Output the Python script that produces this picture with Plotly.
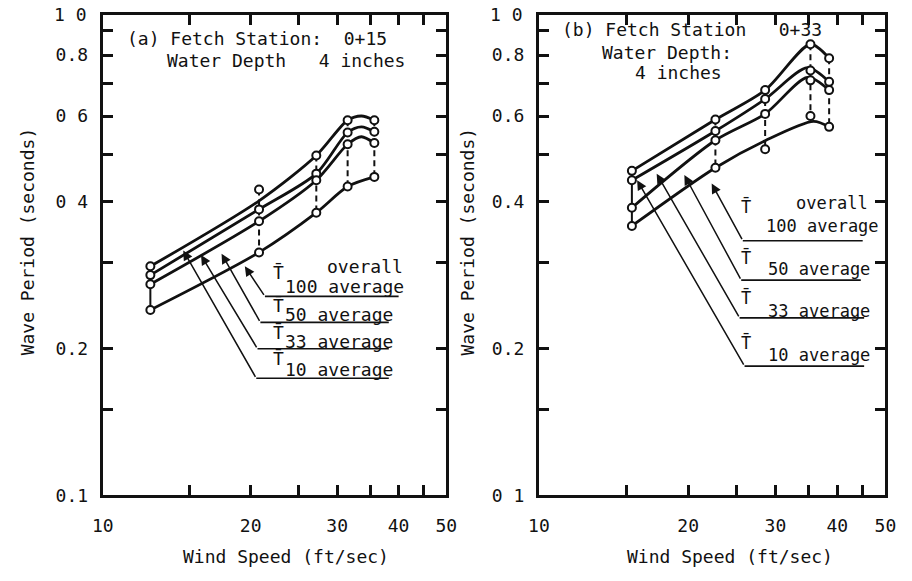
import math
import plotly.graph_objects as go

FONT = "DejaVu Sans Mono"
INK = "#111111"
W, H = 912, 581

# ---------------- data: wave period (s) vs wind speed (ft/sec) ----------------
# (a) Fetch station 0+15, measured points
speed_a = [12.5, 20.8, 27.2, 31.5, 35.7]
t10_a = [0.295, 0.424, 0.498, 0.588, 0.588]
t33_a = [0.283, 0.386, 0.457, 0.555, 0.557]
t50_a = [0.271, 0.365, 0.443, 0.525, 0.528]
t100_a = [0.240, 0.315, 0.380, 0.430, 0.450]

# (a) faired curves
fit_speed_a = [12.5, 20.8, 27.2, 31.5, 33.6, 35.7]
fit_t10_a = [0.295, 0.402, 0.498, 0.588, 0.600, 0.588]
fit_t33_a = [0.283, 0.386, 0.457, 0.555, 0.570, 0.557]
fit_t50_a = [0.271, 0.365, 0.443, 0.525, 0.544, 0.528]
fit_speed_a_low = [12.5, 20.8, 27.2, 31.5, 35.7]
fit_t100_a = [0.240, 0.315, 0.380, 0.430, 0.450]

# (b) Fetch station 0+33, measured points
speed_b = [15.4, 22.7, 28.6, 35.3, 38.5]
t10_b = [0.463, 0.590, 0.678, 0.842, 0.788]
t33_b = [0.443, 0.559, 0.650, 0.744, 0.705]
t50_b = [0.389, 0.535, 0.606, 0.710, 0.678]
t100_b = [0.357, 0.470, 0.513, 0.600, 0.570]

# (b) faired curves
fit_speed_b = [15.4, 22.7, 28.6, 35.3, 38.5]
fit_t10_b = [0.463, 0.590, 0.678, 0.842, 0.788]
fit_speed_b_mid = [15.4, 22.7, 28.6, 34.8, 38.5]
fit_t33_b = [0.443, 0.559, 0.650, 0.754, 0.705]
fit_t50_b = [0.389, 0.535, 0.606, 0.720, 0.678]
fit_speed_b_low = [15.4, 22.7, 28.6, 35.8, 38.5]
fit_t100_b = [0.357, 0.470, 0.534, 0.585, 0.570]

# axis ticks
x_tickvals = [10, 15, 20, 25, 30, 35, 40, 45, 50]
x_ticktext = ["10", "", "20", "", "30", "", "40", "", "50"]
y_tickvals = [0.1, 0.15, 0.2, 0.3, 0.4, 0.5, 0.6, 0.7, 0.8, 0.9]
y_ticktext_a = ["0.1", "", "0.2", "", "0 4", "", "0 6", "", "0.8", ""]
y_ticktext_b = ["0 1", "", "0.2", "", "0.4", "", "0.6", "", "0.8", ""]

series_names = ["10", "33", "50", "100"]

# label leaders: arrow head on curve, elbow, end of underline (speed, period)
leaders_a = {
    "10": ((14.58, 0.318), (20.53, 0.1738), 38.2),
    "33": ((15.85, 0.311), (20.65, 0.1998), 38.2),
    "50": ((17.45, 0.313), (20.93, 0.2264), 38.2),
    "100": ((19.46, 0.295), (21.38, 0.2559), 40.0),
}
leaders_b = {
    "10": ((15.78, 0.443), (25.99, 0.1841), 45.3),
    "33": ((17.28, 0.457), (25.40, 0.2312), 45.3),
    "50": ((19.65, 0.454), (25.59, 0.2764), 44.6),
    "100": ((22.31, 0.436), (25.78, 0.3329), 45.0),
}


def px(x):
    return x / W


def py(y):
    return 1 - y / H


fig = go.Figure()


def add_panel(xa, ya, speed, data, fits, leaders):
    # vertical connectors between the four averages at each speed
    for i, s in enumerate(speed):
        vals = [d[i] for d in data]
        fig.add_trace(go.Scatter(
            x=[s, s], y=[max(vals), min(vals)], mode="lines",
            line=dict(color=INK, width=2, dash="solid" if i == 0 else "6px,4px"),
            xaxis=xa, yaxis=ya, showlegend=False, hoverinfo="skip"))
    # faired curves
    for fx, fy in fits:
        fig.add_trace(go.Scatter(
            x=fx, y=fy, mode="lines",
            line=dict(color=INK, width=2.8, shape="spline", smoothing=0.8),
            xaxis=xa, yaxis=ya, showlegend=False, hoverinfo="skip"))
    # measured points
    for d in data:
        fig.add_trace(go.Scatter(
            x=speed, y=d, mode="markers",
            marker=dict(symbol="circle", size=8, color="white",
                        line=dict(color=INK, width=2)),
            xaxis=xa, yaxis=ya, showlegend=False))
    # label leaders: underline plus arrow up to the curve
    for name in series_names:
        head, elbow, end = leaders[name]
        fig.add_trace(go.Scatter(
            x=[elbow[0], end], y=[elbow[1], elbow[1]], mode="lines",
            line=dict(color=INK, width=1.6),
            xaxis=xa, yaxis=ya, showlegend=False, hoverinfo="skip"))
        fig.add_annotation(
            x=math.log10(head[0]), y=math.log10(head[1]),
            ax=math.log10(elbow[0]), ay=math.log10(elbow[1]),
            xref=xa, yref=ya.replace("axis", ""), axref=xa, ayref=ya.replace("axis", ""),
            text="", showarrow=True, arrowhead=2, arrowsize=1.3,
            arrowwidth=1.5, arrowcolor=INK, standoff=0)


add_panel("x", "y", speed_a, [t10_a, t33_a, t50_a, t100_a],
          [(fit_speed_a, fit_t10_a), (fit_speed_a, fit_t33_a),
           (fit_speed_a, fit_t50_a), (fit_speed_a_low, fit_t100_a)],
          leaders_a)
add_panel("x2", "y2", speed_b, [t10_b, t33_b, t50_b, t100_b],
          [(fit_speed_b, fit_t10_b), (fit_speed_b_mid, fit_t33_b),
           (fit_speed_b_mid, fit_t50_b), (fit_speed_b_low, fit_t100_b)],
          leaders_b)

tick_font = dict(family=FONT, size=18, color=INK)
x_common = dict(type="log", range=[1, math.log10(50)], tickvals=x_tickvals,
                ticktext=x_ticktext, ticks="inside", ticklen=10, tickwidth=2.5,
                tickcolor=INK, showline=True, linewidth=3, linecolor=INK,
                mirror="ticks", showgrid=False, zeroline=False,
                tickfont=tick_font, ticklabelstandoff=12)
y_common = dict(type="log", range=[-1, math.log10(0.968)], tickvals=y_tickvals,
                ticks="inside", ticklen=10, tickwidth=2.5,
                tickcolor=INK, showline=True, linewidth=3, linecolor=INK,
                mirror="ticks", showgrid=False, zeroline=False,
                tickfont=tick_font, ticklabelstandoff=8,
                domain=[py(504), py(15)])

fig.update_layout(
    width=W, height=H, autosize=False,
    margin=dict(l=0, r=0, t=0, b=0),
    paper_bgcolor="white", plot_bgcolor="white",
    xaxis=dict(domain=[px(94), px(446)], anchor="y", **x_common),
    xaxis2=dict(domain=[px(541), px(896)], anchor="y2", **x_common),
    yaxis=dict(anchor="x", ticktext=y_ticktext_a, **y_common),
    yaxis2=dict(anchor="x2", ticktext=y_ticktext_b, **y_common),
)


def text(x, y, s, size=17, xanchor="left", angle=0):
    fig.add_annotation(x=px(x), y=py(y), xref="paper", yref="paper", text=s,
                       showarrow=False, xanchor=xanchor, yanchor="middle",
                       textangle=angle,
                       font=dict(family=FONT, size=size, color=INK))


TBAR = "T\u0304"

# panel (a) text
text(117, 39, "(a) Fetch Station:  0+15", 18)
text(158, 62, "Water Depth   4 inches", 18)
text(80, 15, "1 0", size=18, xanchor="right")
text(266, 277, TBAR, 18)
text(322, 271, "overall", 18)
text(279, 292, "100 average", 18)
text(266, 311, TBAR, 18)
text(279, 320, "50 average", 18)
text(266, 338, TBAR, 18)
text(279, 347, "33 average", 18)
text(266, 365, TBAR, 18)
text(279, 376, "10 average", 18)
text(282, 566, "Wind Speed (ft/sec)", size=18, xanchor="center")
text(17, 246, "Wave Period (seconds)", size=18, xanchor="center", angle=-90)

# panel (b) text
text(563, 30, "(b) Fetch Station   0+33", 18)
text(604, 53, "Water Depth:", 18)
text(637, 74, "4 inches", 18)
text(527, 15, "1 0", size=18, xanchor="right")
text(746, 210, TBAR)
text(802, 207, "overall")
text(772, 230, "100 average")
text(746, 262, TBAR)
text(774, 274, "50 average")
text(746, 303, TBAR)
text(774, 316, "33 average")
text(746, 348, TBAR)
text(774, 361, "10 average")
text(737, 566, "Wind Speed (ft/sec)", size=18, xanchor="center")
text(468, 246, "Wave Period (seconds)", size=18, xanchor="center", angle=-90)

fig.write_html("out.html")
